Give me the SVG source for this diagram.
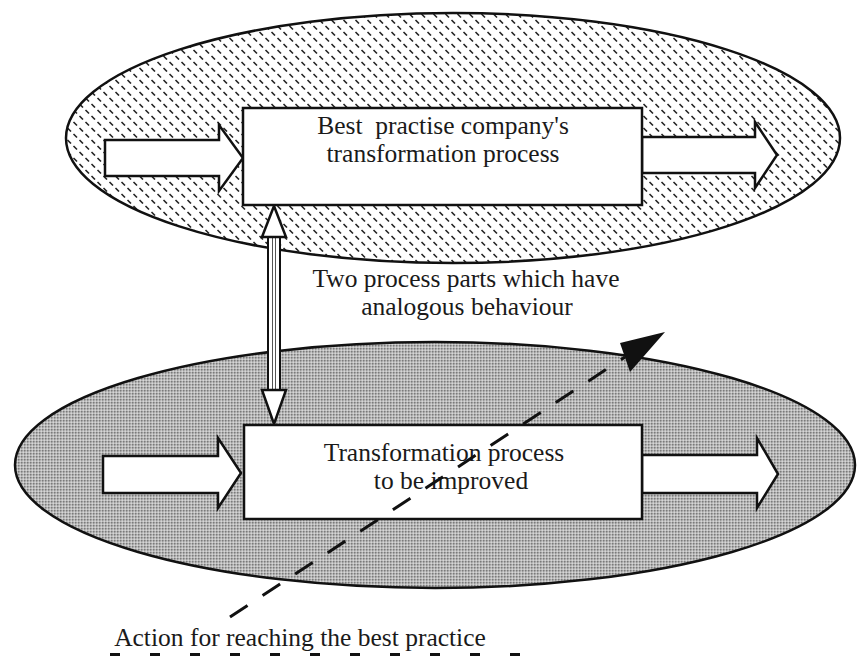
<svg xmlns="http://www.w3.org/2000/svg" width="857" height="656" viewBox="0 0 857 656">
<style>
.txt{font-family:"Liberation Serif","Times New Roman",serif;font-size:25.5px;fill:#1a1a1a;text-anchor:middle;white-space:pre}
.ol{stroke:#111;stroke-width:2.5;stroke-linejoin:miter}
.box{fill:#fff;stroke:#111;stroke-width:2.5}
.arr{fill:#fff;stroke:#111;stroke-width:2.5;stroke-linejoin:miter}
</style>
<defs>
<pattern id="dashes" width="12" height="12" patternUnits="userSpaceOnUse">
<rect width="12" height="12" fill="#fff"/>
<line x1="1.5" y1="2" x2="5" y2="5.5" stroke="#222" stroke-width="1.6"/>
<line x1="7.5" y1="8" x2="11" y2="11.5" stroke="#222" stroke-width="1.6"/>
</pattern>
<pattern id="dots" width="3" height="3" patternUnits="userSpaceOnUse">
<rect width="3" height="3" fill="#b8b8b8"/>
<rect x="0" y="0" width="1.5" height="1.5" fill="#7a7a7a"/>
<rect x="1.5" y="1.5" width="1.5" height="1.5" fill="#d6d6d6"/>
</pattern>
</defs>
<g id="top-region">
<ellipse cx="453" cy="138" rx="387" ry="125" fill="url(#dashes)" class="ol"/>
</g>
<g id="bottom-region">
<ellipse cx="435" cy="465" rx="420" ry="123" fill="url(#dots)" class="ol"/>
</g>
<g id="connectors">
<polygon class="arr" points="105,140 219,140 219,125 243,158 219,191 219,176 105,176"/>
<polygon class="arr" points="642,137 755,137 755,122 777,155 755,188 755,173 642,173"/>
<polygon class="arr" points="103,456 218,456 218,438 241,473 218,508 218,493 103,493"/>
<polygon class="arr" points="642,455 757,455 757,438 778,474 757,508 757,493 642,493"/>
<g id="double-arrow">
<rect x="268" y="236" width="12" height="155" fill="#fff" stroke="#111" stroke-width="2"/>
<line x1="272.5" y1="237" x2="272.5" y2="390" stroke="#555" stroke-width="1"/>
<line x1="275.5" y1="237" x2="275.5" y2="390" stroke="#555" stroke-width="1"/>
<polygon class="arr" stroke-width="2" points="274,206 262,237 286,237"/>
<polygon class="arr" stroke-width="2" points="262,390 286,390 274,424"/>
</g>
</g>
<g id="node-best">
<rect class="box" x="243" y="108" width="399" height="97"/>
<text class="txt" x="443" y="134">Best  practise company's</text>
<text class="txt" x="443" y="162">transformation process</text>
</g>
<g id="node-improve">
<rect class="box" x="244" y="425" width="398" height="94"/>
<text class="txt" x="444" y="461">Transformation process</text>
<text class="txt" x="451" y="489">to be improved</text>
</g>
<g id="label-analogous">
<text class="txt" x="466" y="287">Two process parts which have</text>
<text class="txt" x="467" y="315">analogous behaviour</text>
</g>
<g id="action-arrow">
<line x1="230" y1="617" x2="625" y2="357" stroke="#111" stroke-width="3" stroke-dasharray="21 18"/>
<polygon points="665,332 620,343 630,372" fill="#111"/>
</g>
<g id="label-action">
<text class="txt" x="300" y="646">Action for reaching the best practice</text>
<line x1="110" y1="654.5" x2="520" y2="654.5" stroke="#111" stroke-width="3" stroke-dasharray="10 30"/>
</g>
</svg>
